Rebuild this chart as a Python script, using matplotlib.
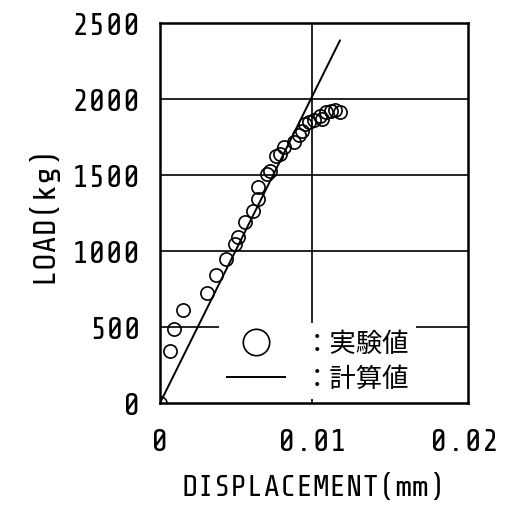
import matplotlib.pyplot as plt
from matplotlib import font_manager

# experimental values (displacement mm, load kg)
exp_disp = [0.0, 0.00066, 0.00094, 0.0015, 0.0031, 0.0037, 0.0043, 0.0049, 0.0051,
            0.0056, 0.0061, 0.0064, 0.0064, 0.0070, 0.0072, 0.0076, 0.0079, 0.0081,
            0.0088, 0.0091, 0.0093, 0.0095, 0.0098, 0.0101, 0.0105, 0.0106, 0.0109,
            0.0112, 0.0115, 0.0118]
exp_load = [0, 341, 488, 615, 725, 840, 945, 1044, 1094,
            1191, 1264, 1340, 1418, 1505, 1527, 1622, 1637, 1681,
            1714, 1763, 1791, 1835, 1846, 1864, 1890, 1868, 1912,
            1923, 1927, 1916]

# calculated values
calc_disp = [0.0, 0.0118]
calc_load = [0, 2385]

x_ticks = [0, 0.01, 0.02]
x_labels = ['0', '0.01', '0.02']
y_ticks = [0, 500, 1000, 1500, 2000, 2500]

names = {f.name for f in font_manager.fontManager.ttflist}
main_font = next(n for n in ['Share Tech Mono', 'Roboto Condensed', 'DejaVu Sans'] if n in names)
plt.rcParams['font.family'] = [main_font, 'DejaVu Sans']

fig = plt.figure(figsize=(5.07, 5.06), dpi=100)
ax = fig.add_axes([160 / 507, 102 / 506, 308 / 507, 380 / 506])

for y in y_ticks[1:-1]:
    ax.axhline(y, color='black', lw=1.2, zorder=1)
ax.axvline(0.01, color='black', lw=1.2, zorder=1)

ax.plot(calc_disp, calc_load, color='black', lw=1.4, label='：計算値', zorder=3)
ax.plot(exp_disp, exp_load, ls='none', marker='o', ms=9.5, mfc='none',
        mec='black', mew=1.2, label='：実験値', zorder=3)

ax.set_xlim(0, 0.0202)
ax.set_ylim(0, 2500)
ax.set_xticks(x_ticks, x_labels)
ax.set_yticks(y_ticks)
ax.tick_params(length=0, labelsize=23, pad=18)
ax.tick_params(axis='y', pad=14)
for s in ax.spines.values():
    s.set_linewidth(1.8)
    s.set_zorder(6)

ax.set_xlabel('DISPLACEMENT(mm)', fontsize=22, labelpad=12)
ax.set_ylabel('LOAD(kg)', fontsize=23, labelpad=10)

h, l = ax.get_legend_handles_labels()
leg = ax.legend([h[1], h[0]], [l[1], l[0]], loc='lower left',
                bbox_to_anchor=(0.15, -0.025), markerscale=2.0, handlelength=2.2,
                handletextpad=0.7, labelspacing=0.3, frameon=True,
                fancybox=False, framealpha=1, borderpad=0.28,
                prop={'family': ['Noto Sans CJK JP', 'DejaVu Sans'], 'size': 19})
leg.get_frame().set_edgecolor('none')
leg.set_zorder(5)

plt.savefig('out.png', dpi=100)
